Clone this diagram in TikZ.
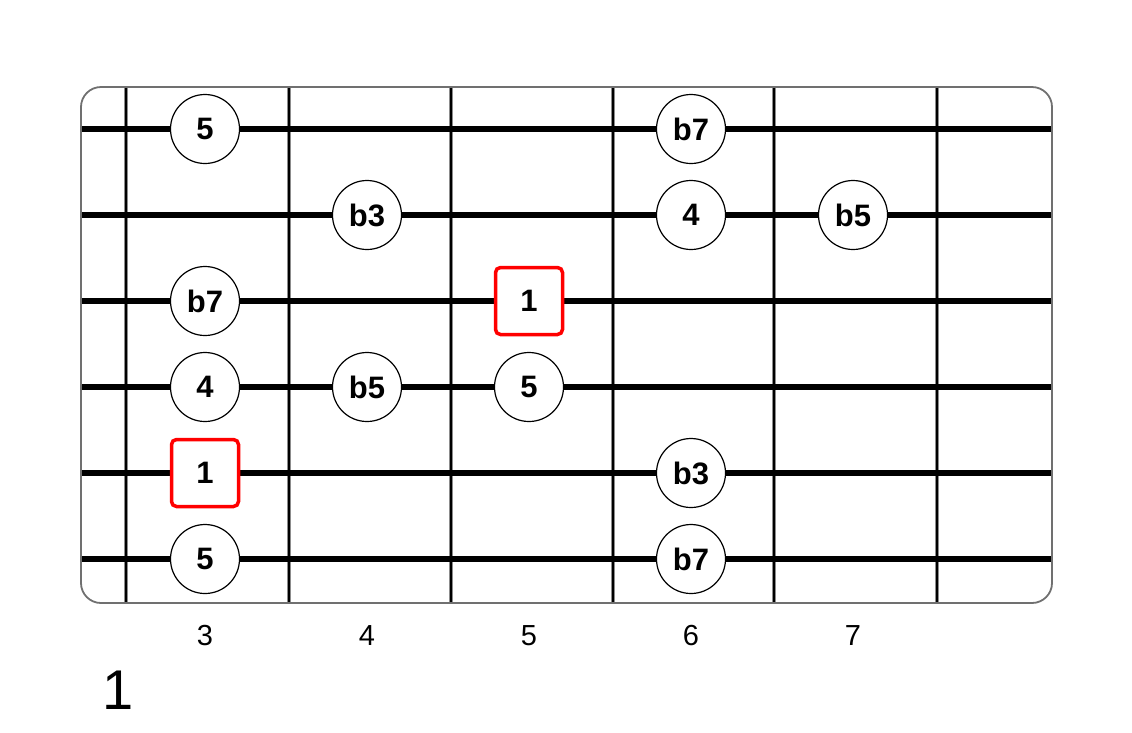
\documentclass[tikz,border=0pt]{standalone}
\usepackage{fontspec}
\setmainfont{Liberation Sans}
\usetikzlibrary{positioning}
\definecolor{boardgray}{HTML}{707070}
\tikzset{
fretline/.style={line width=4.5pt, draw=black!45},
fretcore/.style={line width=2.5pt, draw=black},
stringline/.style={line width=6pt, draw=black},
note/.style={circle, draw=black, line width=1.2pt, fill=white, minimum size=69pt, inner sep=0pt, font=\fontsize{31}{31}\selectfont\bfseries},
root/.style={rectangle, draw=red, line width=3.5pt, rounded corners=5pt, fill=white, minimum size=67pt, inner sep=0pt, font=\fontsize{31}{31}\selectfont\bfseries},
fretnum/.style={font=\fontsize{29}{29}\selectfont},
shapename/.style={font=\fontsize{56}{56}\selectfont}
}

\begin{document}
\begin{tikzpicture}[x=1pt,y=-1pt]
	\useasboundingbox (0,0) rectangle (1132,732);
	% frets
	\foreach \x in {126,289,451,613,774,937} {
		\draw[fretline] (\x,87) -- (\x,603);
		\draw[fretcore] (\x,87) -- (\x,603);
	}
	% strings
	\foreach \s in {1,...,6}
		\draw[stringline] (81,{129+(\s-1)*86}) -- (1052,{129+(\s-1)*86});
	% board
	\draw[boardgray, line width=1.8pt, rounded corners=20pt] (81,87) rectangle (1052,603);
	% notes
	\foreach \s/\f/\t in {1/3/5, 1/6/b7, 2/4/b3, 2/6/4, 2/7/b5, 3/3/b7, 4/3/4, 4/4/b5, 4/5/5, 5/6/b3, 6/3/5, 6/6/b7}
		\node[note] (n\s\f) at ({205+(\f-3)*162},{129+(\s-1)*86}) {\t};
	\foreach \s/\f in {3/5, 5/3}
		\node[root] (r\s\f) at ({205+(\f-3)*162},{129+(\s-1)*86}) {1};
	% fret numbers
	\foreach \f in {3,...,7}
		\node[fretnum] (f\f) at ({205+(\f-3)*162},636) {\f};
	\node[shapename] (shape) at (118,690) {1};
\end{tikzpicture}
\end{document}
